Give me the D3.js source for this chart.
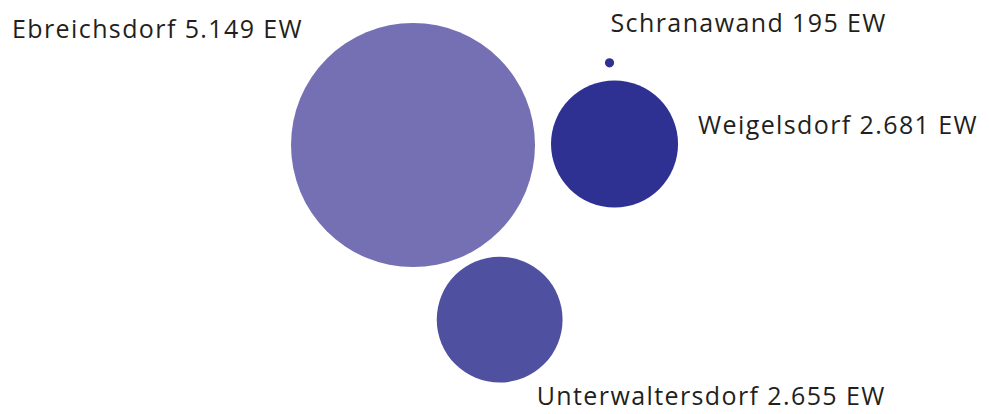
<!DOCTYPE html>
<html>
<head>
<meta charset="utf-8">
<script src="https://cdn.jsdelivr.net/npm/d3@7"></script>
<style>
  body { margin: 0; background: #fff; }
  text { font-family: "Open Sans", sans-serif; fill: #231f20; }
</style>
</head>
<body>
<script>
// Einwohner je Ortsteil
var places = ["Ebreichsdorf", "Weigelsdorf", "Unterwaltersdorf", "Schranawand"];
var residents = [5149, 2681, 2655, 195];
var colors = ["#7570b3", "#2e3192", "#5050a0", "#2e3192"];

var width = 989,
    height = 414;

var svg = d3.select("body").append("svg")
    .attr("width", width)
    .attr("height", height);

// radius grows linearly with population
var r = d3.scaleLinear()
    .domain([0, d3.max(residents)])
    .range([0, 122]);

var fmt = d3.formatLocale({ decimal: ",", thousands: ".", grouping: [3], currency: ["", ""] }).format(",");

var nodes = places.map(function(p, i) {
    return { name: p, value: residents[i], color: colors[i], r: r(residents[i]) };
});

// place the bubbles around the largest one
var big = nodes[0];
big.x = 413; big.y = 145;

var w = nodes[1];
w.x = big.x + big.r + 16 + w.r;
w.y = big.y - 1;

var u = nodes[2];
var a = 63.6 * Math.PI / 180, du = big.r + 10 + u.r;
u.x = big.x + du * Math.cos(a);
u.y = big.y + du * Math.sin(a);

var s = nodes[3];
s.x = w.x - 5;
s.y = w.y - (w.r + 13 + s.r);

svg.append("g").selectAll("circle")
    .data(nodes)
    .enter().append("circle")
    .attr("cx", function(d) { return d.x; })
    .attr("cy", function(d) { return d.y; })
    .attr("r", function(d) { return d.r; })
    .attr("fill", function(d) { return d.color; });

// label anchors (relative to each bubble)
var labelPos = [
    function(d) { return [12, 38]; },
    function(d) { return [d.x + d.r + 20, d.y - 10]; },
    function(d) { return [d.x + 37, d.y + d.r + 23]; },
    function(d) { return [d.x + 1, d.y - 31]; }
];

svg.append("g").selectAll("text")
    .data(nodes)
    .enter().append("text")
    .attr("x", function(d, i) { return labelPos[i](d)[0]; })
    .attr("y", function(d, i) { return labelPos[i](d)[1]; })
    .style("font-size", "25px")
    .style("letter-spacing", "1.4px")
    .text(function(d) { return d.name + " " + fmt(d.value) + " EW"; });
</script>
</body>
</html>
